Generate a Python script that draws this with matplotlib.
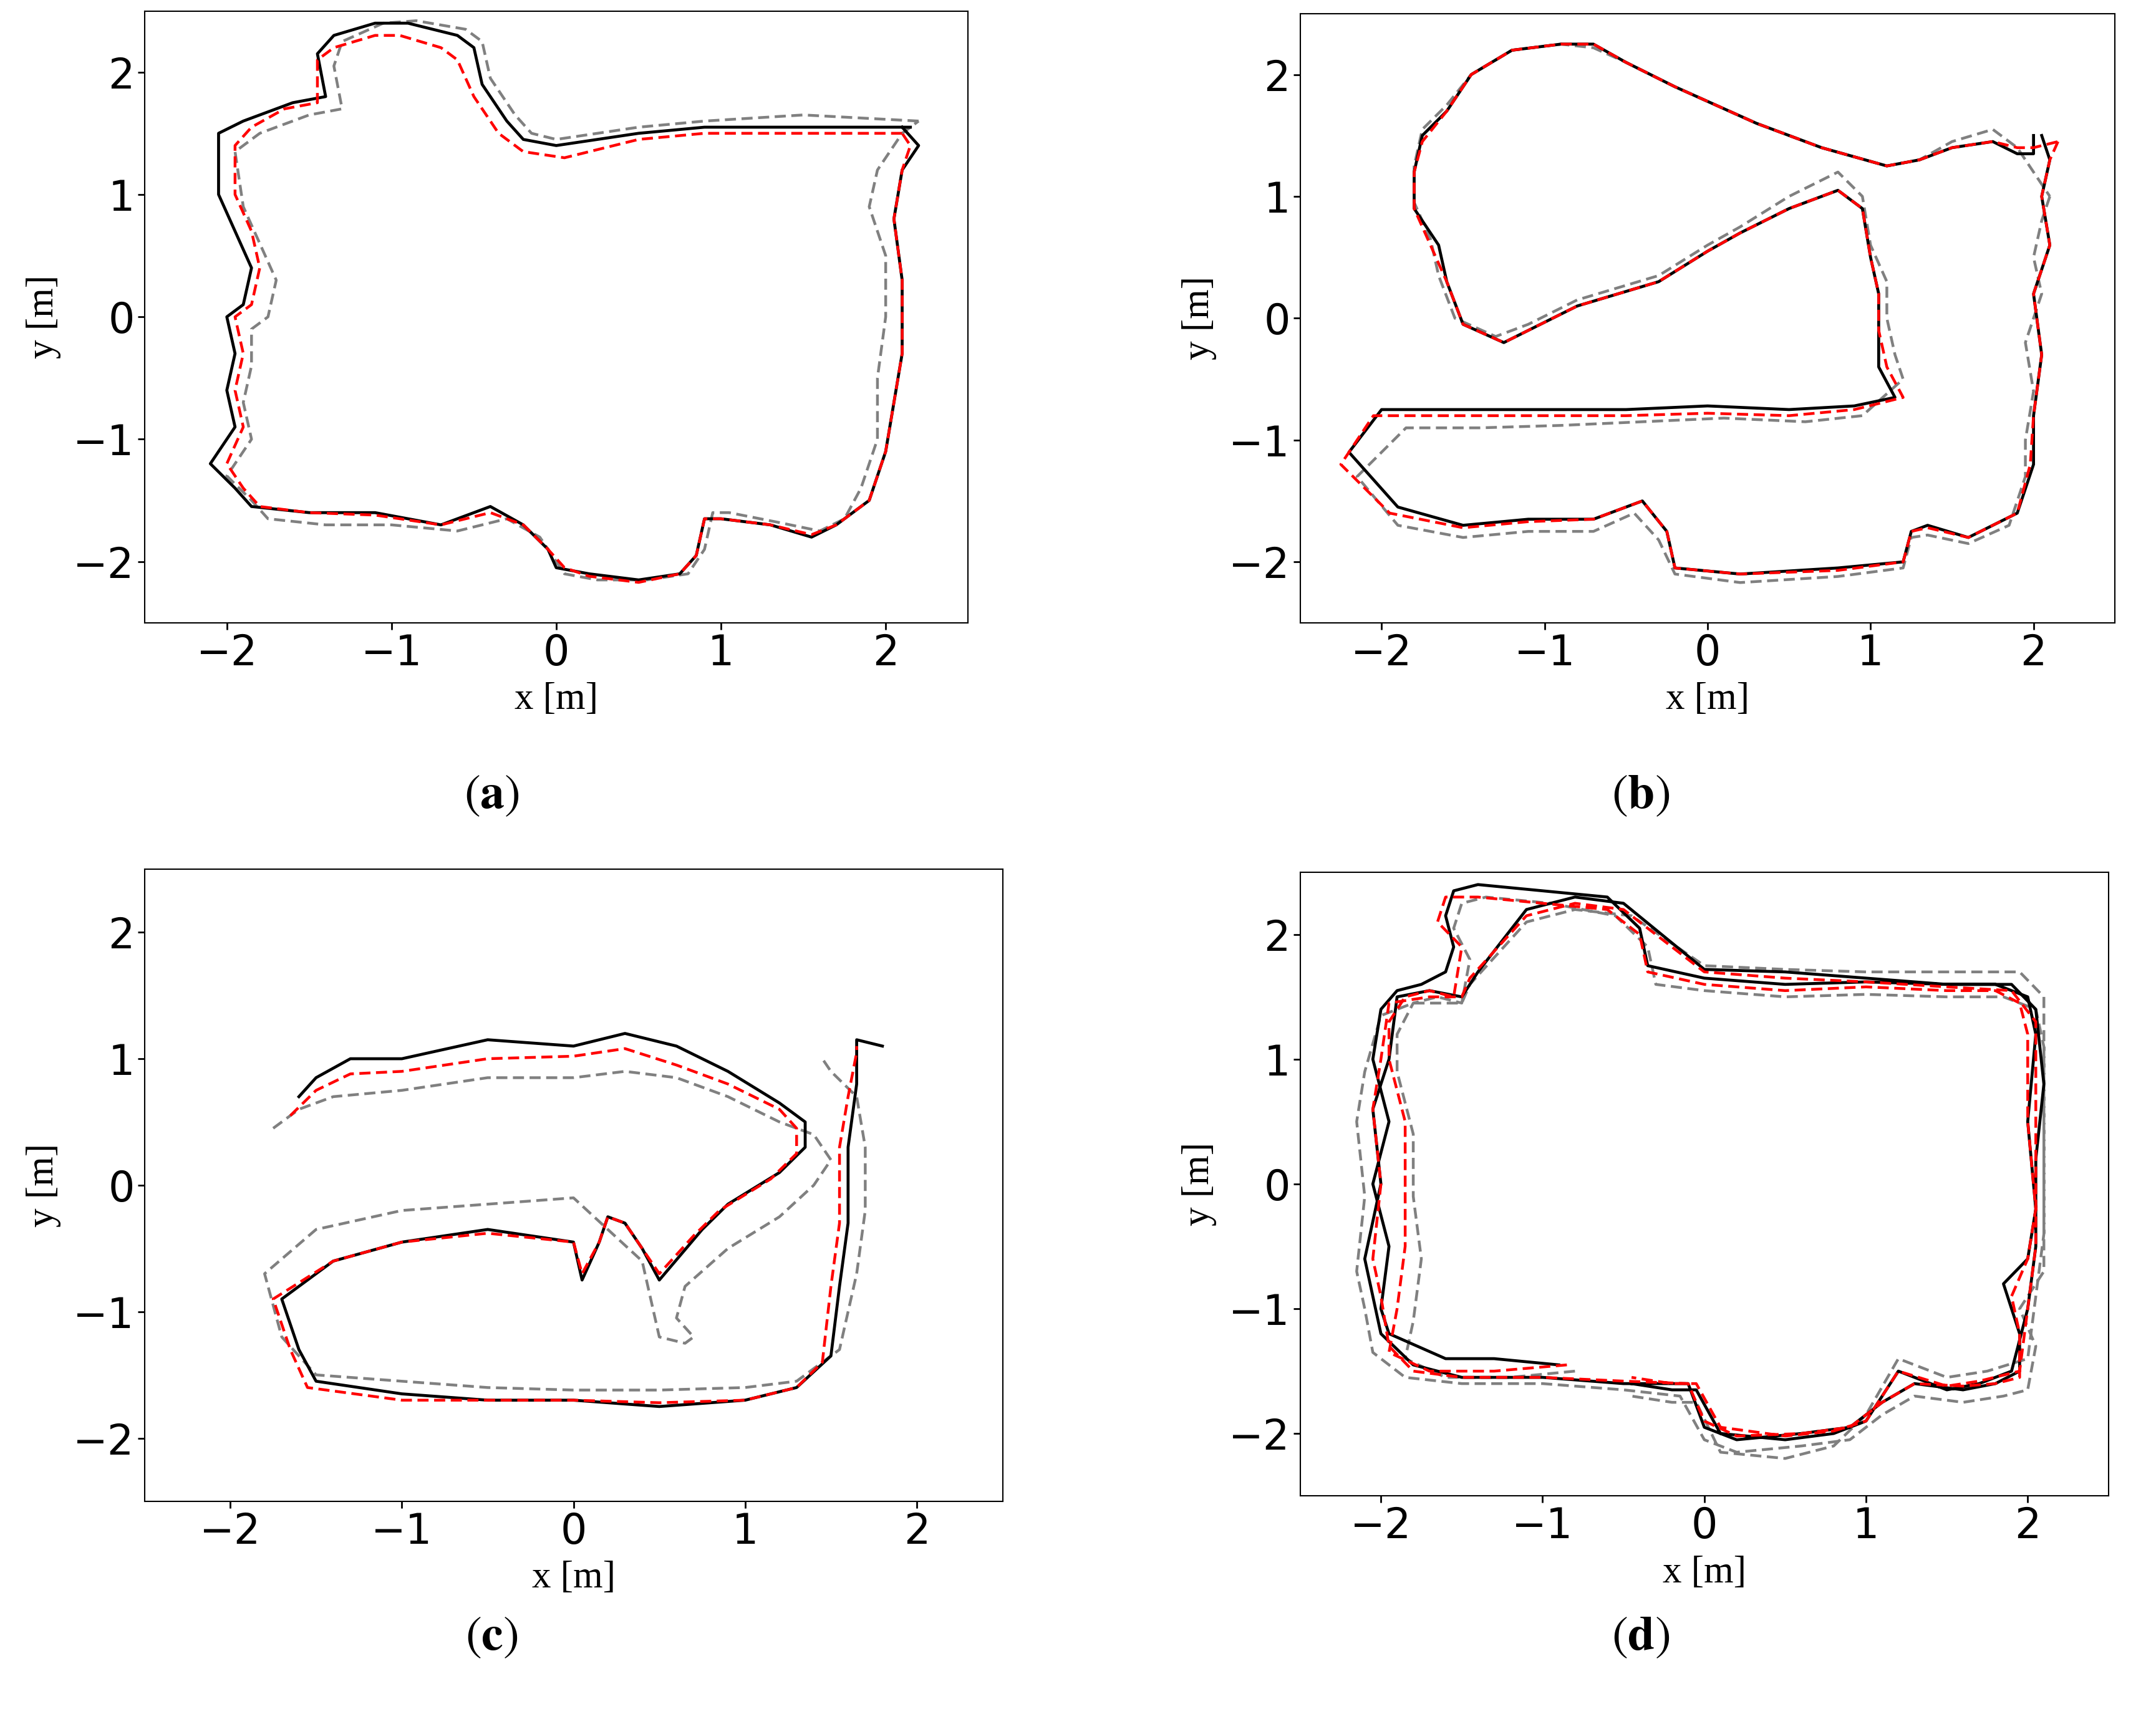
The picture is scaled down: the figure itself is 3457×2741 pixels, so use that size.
import numpy as np
import matplotlib.pyplot as plt

plt.rcParams['mathtext.fontset'] = 'stix'

# ---- panel (a) ----
a_gt_x = [2.15, 1.5, 0.9, 0.5, 0.0, -0.2, -0.3, -0.45, -0.5, -0.6, -0.9, -1.1, -1.35, -1.45, -1.4, -1.6, -1.9, -2.05, -2.05, -1.95, -1.85, -1.9, -2.0, -1.95, -2.0, -1.95, -2.1, -1.95, -1.85, -1.5, -1.1, -0.7, -0.4, -0.2, -0.05, 0.0, 0.2, 0.5, 0.75, 0.85, 0.9, 1.0, 1.3, 1.55, 1.7, 1.9, 2.0, 2.05, 2.1, 2.1, 2.05, 2.1, 2.2, 2.1]
a_gt_y = [1.55, 1.55, 1.55, 1.5, 1.4, 1.45, 1.6, 1.9, 2.2, 2.3, 2.4, 2.4, 2.3, 2.15, 1.8, 1.75, 1.6, 1.5, 1.0, 0.7, 0.4, 0.1, 0.0, -0.3, -0.6, -0.9, -1.2, -1.4, -1.55, -1.6, -1.6, -1.7, -1.55, -1.7, -1.9, -2.05, -2.1, -2.15, -2.1, -1.95, -1.65, -1.65, -1.7, -1.8, -1.7, -1.5, -1.1, -0.7, -0.3, 0.3, 0.8, 1.2, 1.4, 1.55]
a_est_x = [2.1, 1.5, 0.9, 0.5, 0.05, -0.2, -0.35, -0.5, -0.6, -0.7, -0.95, -1.1, -1.35, -1.45, -1.45, -1.65, -1.85, -1.95, -1.95, -1.85, -1.8, -1.85, -1.95, -1.9, -1.95, -1.9, -2.0, -1.9, -1.8, -1.5, -1.1, -0.7, -0.4, -0.2, -0.05, 0.05, 0.2, 0.5, 0.75, 0.85, 0.9, 1.0, 1.3, 1.55, 1.7, 1.9, 2.0, 2.05, 2.1, 2.1, 2.05, 2.1, 2.15, 2.1]
a_est_y = [1.5, 1.5, 1.5, 1.45, 1.3, 1.35, 1.5, 1.8, 2.1, 2.2, 2.3, 2.3, 2.2, 2.1, 1.75, 1.7, 1.55, 1.4, 1.0, 0.7, 0.4, 0.1, 0.0, -0.3, -0.6, -0.9, -1.2, -1.4, -1.55, -1.6, -1.62, -1.7, -1.6, -1.7, -1.9, -2.05, -2.12, -2.17, -2.1, -1.95, -1.65, -1.65, -1.7, -1.78, -1.7, -1.5, -1.1, -0.7, -0.3, 0.3, 0.8, 1.2, 1.4, 1.5]
a_odo_x = [2.2, 1.5, 0.9, 0.5, 0.0, -0.15, -0.25, -0.4, -0.45, -0.55, -0.85, -1.05, -1.3, -1.35, -1.3, -1.5, -1.8, -1.95, -1.9, -1.8, -1.7, -1.75, -1.85, -1.85, -1.9, -1.85, -2.0, -1.85, -1.75, -1.4, -1.0, -0.6, -0.3, -0.1, 0.0, 0.05, 0.25, 0.55, 0.8, 0.9, 0.95, 1.05, 1.35, 1.6, 1.75, 1.85, 1.95, 1.95, 2.0, 2.0, 1.9, 1.95, 2.1, 2.2]
a_odo_y = [1.6, 1.65, 1.6, 1.55, 1.45, 1.5, 1.65, 1.95, 2.25, 2.35, 2.42, 2.4, 2.25, 2.05, 1.7, 1.65, 1.5, 1.35, 0.9, 0.6, 0.3, 0.0, -0.1, -0.4, -0.7, -1.0, -1.3, -1.5, -1.65, -1.7, -1.7, -1.75, -1.65, -1.8, -2.0, -2.1, -2.15, -2.15, -2.1, -1.9, -1.6, -1.6, -1.68, -1.75, -1.65, -1.4, -1.0, -0.5, 0.0, 0.5, 0.9, 1.2, 1.5, 1.6]

# ---- panel (b) ----
b_gt_x = [2.05, 2.1, 2.05, 2.1, 2.0, 2.05, 2.0, 2.0, 1.9, 1.6, 1.35, 1.25, 1.2, 0.8, 0.2, -0.2, -0.25, -0.4, -0.7, -1.1, -1.5, -1.9, -2.2, -2.0, -1.5, -1.0, -0.5, 0.0, 0.5, 0.9, 1.15, 1.05, 1.05, 1.05, 1.0, 0.95, 0.8, 0.5, 0.2, 0.0, -0.3, -0.8, -1.1, -1.25, -1.5, -1.6, -1.65, -1.8, -1.8, -1.75, -1.6, -1.45, -1.2, -0.9, -0.7, -0.5, -0.2, 0.3, 0.7, 1.1, 1.3, 1.5, 1.75, 1.9, 2.0, 2.0]
b_gt_y = [1.5, 1.3, 1.0, 0.6, 0.2, -0.3, -0.8, -1.2, -1.6, -1.8, -1.7, -1.75, -2.0, -2.05, -2.1, -2.05, -1.75, -1.5, -1.65, -1.65, -1.7, -1.55, -1.1, -0.75, -0.75, -0.75, -0.75, -0.72, -0.75, -0.72, -0.65, -0.4, -0.1, 0.2, 0.5, 0.9, 1.05, 0.9, 0.7, 0.55, 0.3, 0.1, -0.1, -0.2, -0.05, 0.3, 0.6, 0.9, 1.2, 1.5, 1.7, 2.0, 2.2, 2.25, 2.25, 2.1, 1.9, 1.6, 1.4, 1.25, 1.3, 1.4, 1.45, 1.35, 1.35, 1.5]
b_est_x = [2.15, 2.1, 2.05, 2.1, 2.0, 2.05, 2.0, 1.98, 1.9, 1.6, 1.35, 1.25, 1.2, 0.8, 0.2, -0.2, -0.25, -0.4, -0.7, -1.1, -1.5, -1.95, -2.25, -2.05, -1.5, -1.0, -0.5, 0.0, 0.5, 0.9, 1.2, 1.1, 1.05, 1.05, 1.0, 0.95, 0.8, 0.5, 0.2, 0.0, -0.3, -0.8, -1.1, -1.25, -1.5, -1.6, -1.7, -1.8, -1.8, -1.75, -1.6, -1.45, -1.2, -0.9, -0.7, -0.5, -0.2, 0.3, 0.7, 1.1, 1.3, 1.5, 1.75, 1.9, 2.0, 2.15]
b_est_y = [1.45, 1.3, 1.0, 0.6, 0.2, -0.3, -0.8, -1.2, -1.6, -1.8, -1.72, -1.75, -2.0, -2.07, -2.1, -2.05, -1.75, -1.5, -1.65, -1.67, -1.72, -1.6, -1.2, -0.8, -0.8, -0.8, -0.8, -0.78, -0.8, -0.75, -0.65, -0.4, -0.1, 0.2, 0.5, 0.9, 1.05, 0.9, 0.7, 0.55, 0.3, 0.1, -0.1, -0.2, -0.05, 0.3, 0.6, 0.9, 1.2, 1.45, 1.7, 2.0, 2.2, 2.25, 2.25, 2.1, 1.9, 1.6, 1.4, 1.25, 1.3, 1.4, 1.45, 1.4, 1.4, 1.45]
b_odo_x = [2.1, 2.05, 2.0, 2.05, 1.95, 2.0, 1.95, 1.95, 1.85, 1.6, 1.35, 1.25, 1.2, 0.8, 0.2, -0.2, -0.3, -0.45, -0.7, -1.1, -1.5, -1.9, -2.15, -1.85, -1.4, -0.9, -0.4, 0.1, 0.6, 0.95, 1.2, 1.15, 1.1, 1.1, 1.0, 0.95, 0.8, 0.5, 0.2, 0.0, -0.3, -0.8, -1.1, -1.3, -1.55, -1.65, -1.7, -1.8, -1.8, -1.75, -1.6, -1.45, -1.2, -0.9, -0.7, -0.5, -0.2, 0.3, 0.7, 1.1, 1.3, 1.5, 1.75, 1.9, 2.0, 2.1]
b_odo_y = [1.0, 0.8, 0.5, 0.2, -0.2, -0.6, -1.0, -1.3, -1.7, -1.85, -1.78, -1.8, -2.05, -2.12, -2.17, -2.1, -1.82, -1.6, -1.75, -1.75, -1.8, -1.7, -1.3, -0.9, -0.9, -0.88, -0.85, -0.82, -0.85, -0.8, -0.5, -0.3, 0.0, 0.3, 0.6, 1.0, 1.2, 1.0, 0.75, 0.6, 0.35, 0.15, -0.05, -0.15, 0.0, 0.35, 0.65, 0.95, 1.25, 1.55, 1.75, 2.0, 2.2, 2.25, 2.22, 2.1, 1.9, 1.6, 1.4, 1.25, 1.3, 1.45, 1.55, 1.4, 1.2, 1.0]

# ---- panel (c) ----
c_gt_x = [-1.6, -1.5, -1.3, -1.0, -0.5, 0.0, 0.3, 0.6, 0.9, 1.2, 1.35, 1.35, 1.2, 0.9, 0.75, 0.5, 0.4, 0.3, 0.2, 0.15, 0.05, 0.0, -0.5, -1.0, -1.4, -1.7, -1.6, -1.5, -1.0, -0.5, 0.0, 0.5, 1.0, 1.3, 1.5, 1.55, 1.6, 1.6, 1.65, 1.65, 1.8]
c_gt_y = [0.7, 0.85, 1.0, 1.0, 1.15, 1.1, 1.2, 1.1, 0.9, 0.65, 0.5, 0.3, 0.1, -0.15, -0.35, -0.75, -0.5, -0.3, -0.25, -0.45, -0.75, -0.45, -0.35, -0.45, -0.6, -0.9, -1.3, -1.55, -1.65, -1.7, -1.7, -1.75, -1.7, -1.6, -1.35, -0.8, -0.3, 0.3, 0.8, 1.15, 1.1]
c_est_x = [-1.65, -1.5, -1.3, -1.0, -0.5, 0.0, 0.3, 0.6, 0.9, 1.2, 1.3, 1.3, 1.15, 0.85, 0.7, 0.5, 0.4, 0.3, 0.2, 0.15, 0.05, 0.0, -0.5, -1.0, -1.4, -1.75, -1.65, -1.55, -1.0, -0.5, 0.0, 0.5, 1.0, 1.3, 1.45, 1.5, 1.55, 1.55, 1.6, 1.65, 1.65]
c_est_y = [0.55, 0.75, 0.88, 0.9, 1.0, 1.02, 1.08, 0.95, 0.8, 0.6, 0.45, 0.25, 0.05, -0.2, -0.4, -0.7, -0.5, -0.3, -0.25, -0.45, -0.7, -0.45, -0.38, -0.45, -0.6, -0.9, -1.3, -1.6, -1.7, -1.7, -1.7, -1.72, -1.7, -1.6, -1.4, -0.8, -0.3, 0.3, 0.7, 1.05, 1.1]
c_odo_x = [-1.75, -1.6, -1.4, -1.0, -0.5, 0.0, 0.3, 0.6, 0.9, 1.2, 1.4, 1.5, 1.4, 1.2, 0.9, 0.65, 0.6, 0.7, 0.65, 0.5, 0.4, 0.0, -0.5, -1.0, -1.5, -1.8, -1.7, -1.5, -1.0, -0.5, 0.0, 0.5, 1.0, 1.3, 1.55, 1.65, 1.7, 1.7, 1.65, 1.5, 1.45]
c_odo_y = [0.45, 0.6, 0.7, 0.75, 0.85, 0.85, 0.9, 0.85, 0.7, 0.5, 0.4, 0.2, 0.0, -0.25, -0.5, -0.8, -1.05, -1.2, -1.25, -1.2, -0.6, -0.1, -0.15, -0.2, -0.35, -0.7, -1.2, -1.5, -1.55, -1.6, -1.62, -1.62, -1.6, -1.55, -1.3, -0.7, -0.2, 0.3, 0.7, 0.9, 1.0]

# ---- panel (d) ----
d_gt_x = [-0.9, -1.3, -1.6, -1.95, -2.0, -1.95, -2.05, -1.95, -2.05, -2.0, -1.9, -1.75, -1.6, -1.55, -1.6, -1.55, -1.4, -1.0, -0.6, -0.4, -0.35, 0.0, 0.5, 1.0, 1.5, 1.8, 2.0, 2.05, 2.0, 2.05, 2.0, 1.85, 1.95, 1.95, 1.8, 1.6, 1.3, 1.1, 0.9, 0.6, 0.2, 0.0, -0.1, -0.5, -1.0, -1.5, -1.8, -2.0, -2.05, -2.1, -2.0, -2.05, -1.95, -1.9, -1.7, -1.5, -1.4, -1.1, -0.8, -0.5, 0.0, 0.5, 1.0, 1.5, 1.9, 2.05, 2.1, 2.05, 2.05, 2.0, 1.9, 1.7, 1.5, 1.2, 1.0, 0.8, 0.5, 0.1, -0.05, -0.2, -0.45]
d_gt_y = [-1.45, -1.4, -1.4, -1.2, -1.0, -0.5, 0.0, 0.5, 1.0, 1.4, 1.55, 1.6, 1.7, 1.9, 2.15, 2.35, 2.4, 2.35, 2.3, 2.05, 1.75, 1.65, 1.6, 1.62, 1.6, 1.6, 1.5, 1.2, 0.5, -0.2, -0.6, -0.8, -1.2, -1.5, -1.6, -1.65, -1.6, -1.75, -1.95, -2.0, -2.05, -1.95, -1.6, -1.6, -1.55, -1.55, -1.45, -1.2, -0.9, -0.6, 0.0, 0.6, 1.0, 1.5, 1.55, 1.5, 1.7, 2.2, 2.3, 2.25, 1.72, 1.7, 1.65, 1.6, 1.6, 1.4, 0.8, 0.2, -0.5, -1.0, -1.5, -1.6, -1.65, -1.5, -1.9, -2.0, -2.05, -2.0, -1.65, -1.65, -1.6]
d_est_x = [-0.85, -1.3, -1.7, -1.95, -1.9, -1.85, -1.85, -1.85, -1.95, -1.95, -1.85, -1.7, -1.55, -1.5, -1.65, -1.6, -1.4, -1.0, -0.6, -0.4, -0.35, 0.0, 0.5, 1.0, 1.5, 1.8, 1.95, 2.0, 2.0, 2.05, 2.0, 1.9, 1.95, 1.95, 1.8, 1.6, 1.3, 1.1, 0.9, 0.6, 0.2, 0.0, -0.1, -0.5, -1.0, -1.5, -1.8, -1.95, -2.0, -2.05, -2.0, -2.05, -2.0, -1.95, -1.7, -1.5, -1.45, -1.1, -0.8, -0.5, 0.0, 0.5, 1.0, 1.5, 1.9, 2.05, 2.05, 2.05, 2.05, 2.0, 1.95, 1.7, 1.5, 1.2, 1.0, 0.8, 0.5, 0.1, -0.05, -0.2, -0.45]
d_est_y = [-1.45, -1.5, -1.5, -1.35, -1.0, -0.5, 0.0, 0.5, 1.0, 1.3, 1.5, 1.55, 1.5, 1.9, 2.1, 2.3, 2.3, 2.25, 2.2, 2.0, 1.7, 1.6, 1.55, 1.58, 1.55, 1.55, 1.45, 1.2, 0.5, -0.2, -0.6, -0.9, -1.2, -1.55, -1.6, -1.62, -1.6, -1.75, -1.95, -2.0, -2.02, -1.9, -1.6, -1.58, -1.55, -1.55, -1.5, -1.3, -0.9, -0.6, 0.0, 0.6, 1.0, 1.45, 1.5, 1.5, 1.65, 2.15, 2.25, 2.2, 1.7, 1.65, 1.62, 1.58, 1.55, 1.3, 0.8, 0.2, -0.5, -1.0, -1.5, -1.58, -1.62, -1.5, -1.9, -1.98, -2.02, -1.95, -1.6, -1.6, -1.55]
d_odo_x = [-0.8, -1.2, -1.6, -1.85, -1.8, -1.75, -1.8, -1.8, -1.9, -1.9, -1.8, -1.65, -1.5, -1.45, -1.55, -1.5, -1.35, -0.95, -0.55, -0.35, -0.3, 0.0, 0.5, 1.0, 1.5, 1.85, 2.05, 2.1, 2.1, 2.1, 2.1, 1.95, 2.05, 2.0, 1.85, 1.6, 1.3, 1.1, 0.9, 0.6, 0.2, 0.0, -0.15, -0.5, -1.0, -1.5, -1.85, -2.05, -2.1, -2.15, -2.1, -2.15, -2.1, -2.0, -1.8, -1.5, -1.45, -1.1, -0.8, -0.45, 0.0, 0.5, 1.0, 1.5, 1.95, 2.1, 2.1, 2.1, 2.1, 2.05, 2.0, 1.75, 1.5, 1.2, 1.0, 0.8, 0.5, 0.1, -0.05, -0.2, -0.45]
d_odo_y = [-1.5, -1.55, -1.55, -1.4, -1.1, -0.6, -0.1, 0.4, 0.9, 1.2, 1.45, 1.5, 1.45, 1.8, 2.05, 2.25, 2.3, 2.25, 2.15, 1.9, 1.6, 1.55, 1.5, 1.52, 1.5, 1.5, 1.4, 1.1, 0.4, -0.3, -0.7, -1.0, -1.3, -1.65, -1.7, -1.75, -1.7, -1.85, -2.05, -2.1, -2.15, -2.05, -1.7, -1.65, -1.6, -1.6, -1.55, -1.35, -1.0, -0.7, -0.1, 0.5, 0.9, 1.35, 1.45, 1.45, 1.6, 2.1, 2.2, 2.15, 1.75, 1.72, 1.7, 1.7, 1.7, 1.5, 0.9, 0.3, -0.4, -0.9, -1.4, -1.5, -1.55, -1.4, -1.85, -2.1, -2.2, -2.15, -1.75, -1.75, -1.7]

panels = [
    ("a", [0.067, 0.6356, 0.382, 0.358], a_gt_x, a_gt_y, a_est_x, a_est_y, a_odo_x, a_odo_y),
    ("b", [0.603, 0.6356, 0.378, 0.3564], b_gt_x, b_gt_y, b_est_x, b_est_y, b_odo_x, b_odo_y),
    ("c", [0.067, 0.1215, 0.398, 0.370], c_gt_x, c_gt_y, c_est_x, c_est_y, c_odo_x, c_odo_y),
    ("d", [0.603, 0.1247, 0.375, 0.365], d_gt_x, d_gt_y, d_est_x, d_est_y, d_odo_x, d_odo_y),
]
captions = {"a": (0.228, 0.535), "b": (0.761, 0.535), "c": (0.228, 0.0426), "d": (0.761, 0.0426)}

fig = plt.figure(figsize=(34.57, 27.41), dpi=100)
for name, rect, gx, gy, ex, ey, ox, oy in panels:
    ax = fig.add_axes(rect)
    ax.plot(ox, oy, color='#808080', ls='--', lw=3.2, dashes=(4, 2))
    ax.plot(gx, gy, color='black', lw=3.4)
    ax.plot(ex, ey, color='red', ls='--', lw=3.2, dashes=(4, 2))
    ax.set_xlim(-2.5, 2.5)
    ax.set_ylim(-2.5, 2.5)
    ax.set_xticks([-2, -1, 0, 1, 2])
    ax.set_yticks([-2, -1, 0, 1, 2])
    ax.tick_params(labelsize=48, width=2, length=8)
    for s in ax.spines.values():
        s.set_linewidth(1.5)
    ax.set_xlabel('x [m]', family='Liberation Serif', fontsize=44, labelpad=10)
    ax.set_ylabel('y [m]', family='Liberation Serif', fontsize=44, labelpad=14)
    cx, cy = captions[name]
    fig.text(cx, cy, r'$\mathrm{(}\mathbf{' + name + r'}\mathrm{)}$', ha='center', va='center',
             fontsize=56)

fig.savefig('out.png', dpi=100)
